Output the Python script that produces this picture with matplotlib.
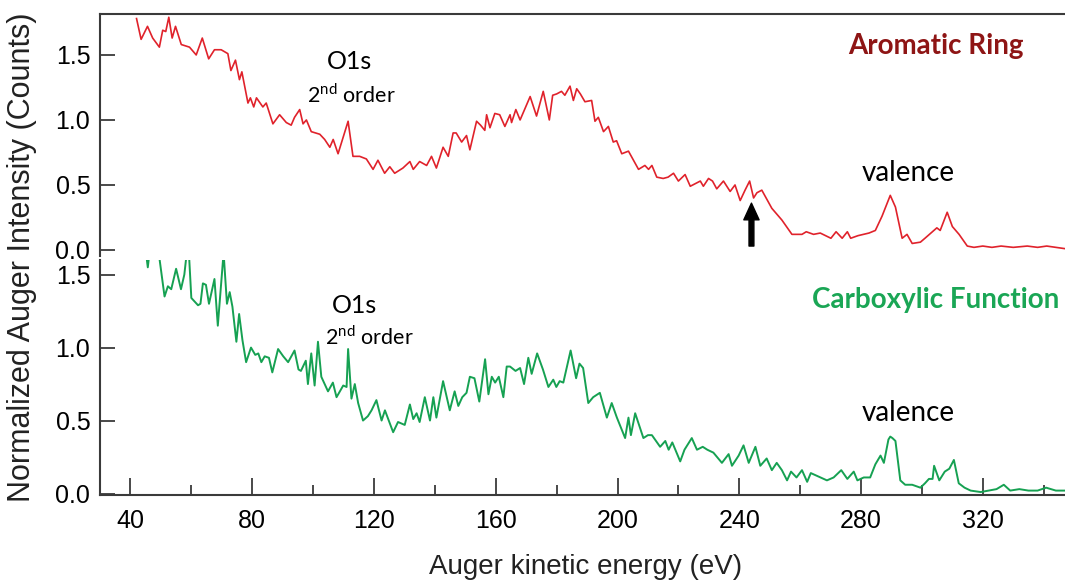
import numpy as np
import matplotlib.pyplot as plt
from matplotlib.ticker import MultipleLocator

# Aromatic ring spectrum (upper panel)
aromatic_energy = [
    42.0, 43.5, 45.6, 47.3, 49.5, 50.6, 51.6, 52.6, 53.7, 54.8, 56.7, 59.4, 61.6, 63.6,
    65.7, 67.6, 69.8, 72.0, 73.0, 74.5, 75.8, 76.6, 78.6, 79.4, 80.5, 81.4, 83.5, 84.6,
    86.8, 89.0, 91.2, 92.8, 93.9, 95.6, 96.7, 97.8, 99.4, 102.2, 103.8, 105.5, 106.6,
    108.2, 111.5, 113.1, 115.3, 117.5, 119.7, 121.3, 123.5, 125.2, 126.8, 129.5, 131.8,
    132.9, 135.0, 137.3, 138.9, 140.5, 142.7, 144.4, 146.0, 147.0, 148.8, 150.4, 151.5,
    153.7, 155.0, 156.4, 157.0, 158.1, 159.7, 161.3, 163.0, 164.7, 165.2, 166.6, 168.0,
    171.3, 173.4, 175.6, 177.6, 178.7, 180.0, 181.6, 182.7, 184.4, 185.5, 186.6, 187.8,
    189.3, 191.5, 192.6, 193.7, 195.4, 197.0, 198.6, 199.7, 201.4, 203.6, 206.9, 209.0,
    210.2, 211.3, 212.9, 215.0, 216.6, 218.4, 220.0, 222.2, 223.9, 227.2, 228.2, 229.9,
    231.2, 232.6, 234.8, 237.0, 238.6, 240.3, 241.9, 243.4, 244.7, 245.8, 247.4, 250.7,
    254.0, 257.3, 260.6, 262.0, 264.4, 266.6, 270.1, 271.8, 273.8, 275.5, 276.6, 279.0,
    282.6, 284.7, 286.9, 289.6, 291.3, 293.5, 295.1, 296.8, 299.5, 301.0, 304.9, 306.0,
    308.3, 310.0, 312.2, 314.9, 317.1, 320.0, 323.0, 326.0, 330.0, 334.6, 338.0, 341.0,
    344.0, 347.0,
]
aromatic_counts = [
    1.78, 1.62, 1.72, 1.63, 1.56, 1.69, 1.68, 1.79, 1.63, 1.72, 1.58, 1.56, 1.50, 1.63,
    1.47, 1.54, 1.54, 1.51, 1.38, 1.46, 1.31, 1.37, 1.13, 1.17, 1.10, 1.17, 1.10, 1.13,
    0.97, 1.04, 0.98, 0.96, 1.02, 1.08, 0.97, 1.00, 0.91, 0.89, 0.85, 0.79, 0.85,
    0.74, 0.99, 0.72, 0.72, 0.70, 0.62, 0.69, 0.59, 0.64, 0.59, 0.63, 0.68,
    0.62, 0.68, 0.65, 0.72, 0.63, 0.79, 0.72, 0.90, 0.90, 0.83, 0.88, 0.77,
    0.99, 0.96, 0.92, 1.04, 0.94, 1.05, 1.04, 0.95, 1.04, 0.98, 1.08, 1.00,
    1.18, 1.03, 1.22, 1.00, 1.19, 1.20, 1.22, 1.19, 1.26, 1.15, 1.24, 1.20,
    1.14, 1.15, 0.99, 1.02, 0.91, 0.95, 0.83, 0.84, 0.74, 0.76, 0.62, 0.65,
    0.62, 0.65, 0.56, 0.55, 0.56, 0.59, 0.53, 0.58, 0.49, 0.53, 0.49, 0.55,
    0.53, 0.47, 0.53, 0.45, 0.50, 0.38, 0.46, 0.53, 0.40, 0.44, 0.46, 0.32,
    0.23, 0.12, 0.12, 0.14, 0.12, 0.13, 0.09, 0.14, 0.09, 0.14, 0.09, 0.11,
    0.13, 0.15, 0.26, 0.42, 0.33, 0.09, 0.12, 0.05, 0.06, 0.09, 0.17, 0.15,
    0.29, 0.18, 0.12, 0.03, 0.02, 0.03, 0.02, 0.03, 0.02, 0.03, 0.02, 0.03,
    0.02, 0.01,
]

# Carboxylic function spectrum (lower panel)
carboxylic_energy = [
    44.5, 45.7, 46.8, 48.2, 49.6, 51.2, 52.3, 53.4, 55.0, 56.6, 57.7, 58.5, 59.2, 60.0,
    62.2, 63.0, 63.8, 64.8, 65.8, 67.6, 68.7, 70.6, 71.7, 72.6, 73.5, 74.8, 75.7, 76.8,
    78.0, 79.6, 81.0, 82.0, 83.0, 84.1, 85.5, 86.6, 88.5, 90.2, 91.8, 93.9, 95.2, 96.0,
    97.6, 98.3, 99.4, 100.5, 101.6, 102.7, 104.9, 106.5, 107.7, 109.9, 111.0, 111.5,
    112.6, 113.7, 114.8, 116.4, 118.0, 119.2, 120.8, 122.5, 123.6, 125.2, 126.3, 127.9,
    130.1, 131.8, 132.9, 134.0, 135.0, 136.7, 138.4, 139.5, 140.5, 142.7, 144.9, 146.5,
    147.7, 149.0, 150.4, 151.5, 153.0, 154.6, 156.5, 157.6, 158.7, 159.8, 161.0, 162.5,
    163.6, 164.7, 166.5, 168.0, 169.3, 170.7, 171.8, 173.6, 175.5, 177.3, 178.9, 179.9,
    181.0, 182.2, 184.6, 186.4, 187.5, 188.7, 190.4, 192.0, 194.2, 196.5, 198.1, 199.8,
    202.5, 203.6, 204.4, 205.8, 208.5, 210.0, 211.3, 214.0, 215.7, 216.8, 218.0, 220.6,
    222.0, 224.4, 226.1, 228.0, 229.5, 231.5, 234.3, 236.5, 237.6, 239.8, 241.4, 243.1,
    245.3, 246.9, 249.0, 250.7, 252.3, 254.0, 255.7, 257.0, 258.8, 260.6, 262.3, 263.5,
    266.7, 268.8, 271.0, 273.5, 275.5, 277.6, 278.8, 280.9, 283.0, 284.7, 286.4, 287.5,
    289.0, 289.6, 290.3, 291.3, 292.9, 294.5, 296.8, 299.5, 301.0, 302.3, 303.5, 304.0,
    305.7, 307.5, 309.0, 310.5, 312.1, 314.0, 316.0, 319.3, 322.0, 324.5, 326.9, 329.0,
    332.0, 335.0, 338.0, 340.8, 344.0, 347.0,
]
carboxylic_counts = [
    1.75, 1.55, 1.75, 1.85, 1.60, 1.35, 1.42, 1.40, 1.54, 1.40, 1.50, 1.65, 1.65, 1.34,
    1.29, 1.30, 1.44, 1.43, 1.30, 1.47, 1.15, 1.65, 1.30, 1.38, 1.28, 1.04, 1.23, 1.05,
    0.90, 1.00, 0.95, 0.96, 0.90, 0.94, 0.93, 0.83, 0.99, 0.94, 0.90, 0.98, 0.85, 0.84,
    0.91, 0.75, 0.96, 0.74, 1.04, 0.80, 0.70, 0.76, 0.66, 0.74, 0.73, 0.99,
    0.65, 0.75, 0.62, 0.50, 0.53, 0.57, 0.64, 0.50, 0.57, 0.48, 0.42, 0.49,
    0.47, 0.61, 0.51, 0.55, 0.49, 0.66, 0.50, 0.66, 0.52, 0.77, 0.57, 0.70,
    0.60, 0.66, 0.69, 0.80, 0.79, 0.63, 0.92, 0.68, 0.80, 0.76, 0.80, 0.66,
    0.87, 0.87, 0.84, 0.86, 0.75, 0.93, 0.82, 0.96, 0.85, 0.73, 0.78, 0.73,
    0.77, 0.76, 0.98, 0.79, 0.89, 0.86, 0.62, 0.66, 0.69, 0.52, 0.62, 0.52,
    0.38, 0.52, 0.40, 0.55, 0.38, 0.40, 0.40, 0.32, 0.36, 0.30, 0.35, 0.22,
    0.30, 0.38, 0.30, 0.32, 0.30, 0.28, 0.21, 0.27, 0.19, 0.26, 0.33, 0.21,
    0.32, 0.19, 0.24, 0.16, 0.21, 0.16, 0.09, 0.15, 0.11, 0.16, 0.08, 0.14,
    0.11, 0.09, 0.11, 0.16, 0.10, 0.15, 0.09, 0.11, 0.11, 0.20, 0.26, 0.21,
    0.37, 0.39, 0.38, 0.36, 0.09, 0.06, 0.06, 0.04, 0.07, 0.10, 0.10, 0.19,
    0.09, 0.15, 0.17, 0.23, 0.07, 0.04, 0.02, 0.01, 0.02, 0.03, 0.06, 0.02,
    0.03, 0.02, 0.02, 0.04, 0.02, 0.02,
]

x_major_ticks = [40, 80, 120, 160, 200, 240, 280, 320]
y_ticks = [0.0, 0.5, 1.0, 1.5]

plt.rcParams["font.family"] = ["Liberation Sans", "DejaVu Sans"]
note_font = ["Lato", "DejaVu Sans"]
spine_color = "#3a3a3a"

fig = plt.figure(figsize=(10.65, 5.83), dpi=100)
ax_top = fig.add_axes([0.0939, 0.561, 0.9061, 0.415])
ax_bot = fig.add_axes([0.0939, 0.151, 0.9061, 0.403])

ax_top.plot(aromatic_energy, aromatic_counts, color="#e0222b", lw=1.2)
ax_bot.plot(carboxylic_energy, carboxylic_counts, color="#16a152", lw=1.4)

ax_top.set_ylim(-0.046, 1.815)
ax_bot.set_ylim(-0.01, 1.60)

for ax in (ax_top, ax_bot):
    ax.set_xlim(30, 347)
    ax.set_yticks(y_ticks)
    ax.set_yticklabels([f"{t:.1f}" for t in y_ticks])
    ax.spines["right"].set_visible(False)
    for s in ax.spines.values():
        s.set_color(spine_color)
        s.set_linewidth(1.5)
    ax.tick_params(axis="y", direction="in", length=11, width=1.3, color=spine_color,
                   labelsize=18, pad=7)

ax_top.spines["bottom"].set_visible(False)
ax_top.tick_params(axis="x", bottom=False, labelbottom=False)
ax_bot.spines["top"].set_visible(False)

ax_bot.set_xticks(x_major_ticks)
ax_bot.xaxis.set_minor_locator(MultipleLocator(20))
ax_bot.tick_params(axis="x", which="major", direction="in", length=12, width=1.3,
                   color=spine_color, labelsize=18, pad=10)
ax_bot.tick_params(axis="x", which="minor", direction="in", length=7, width=1.3,
                   color=spine_color)

# annotations
ax_top.text(112, 1.45, "O1s", fontsize=18, family=note_font, ha="center", va="center")
ax_top.text(112.5, 1.19, "2$^{\\mathregular{nd}}$ order", fontsize=15.5, family=note_font,
            ha="center", va="center")
ax_top.text(304.5, 1.57, "Aromatic Ring", fontsize=20, fontweight="bold",
            family=note_font, color="#8e1515", ha="center", va="center")
ax_top.text(295.6, 0.59, "valence", fontsize=20, family=note_font, ha="center", va="center")
ax_top.annotate("", xy=(244, 0.36), xytext=(244, 0.03),
                arrowprops=dict(facecolor="black", edgecolor="black", width=3.5,
                                headwidth=11, headlength=12))

ax_bot.text(113.7, 1.29, "O1s", fontsize=18, family=note_font, ha="center", va="center")
ax_bot.text(118.6, 1.07, "2$^{\\mathregular{nd}}$ order", fontsize=15.5, family=note_font,
            ha="center", va="center")
ax_bot.text(304.5, 1.325, "Carboxylic Function", fontsize=20, fontweight="bold",
            family=note_font, color="#1aa655", ha="center", va="center")
ax_bot.text(295.6, 0.55, "valence", fontsize=20, family=note_font, ha="center", va="center")

fig.text(0.021, 0.559, "Normalized Auger Intensity (Counts)", rotation=90,
         fontsize=22, ha="center", va="center", color="#222222")
fig.text(0.55, 0.028, "Auger kinetic energy (eV)", fontsize=20, ha="center",
         va="center", color="#222222")

fig.savefig("out.png", dpi=100)
